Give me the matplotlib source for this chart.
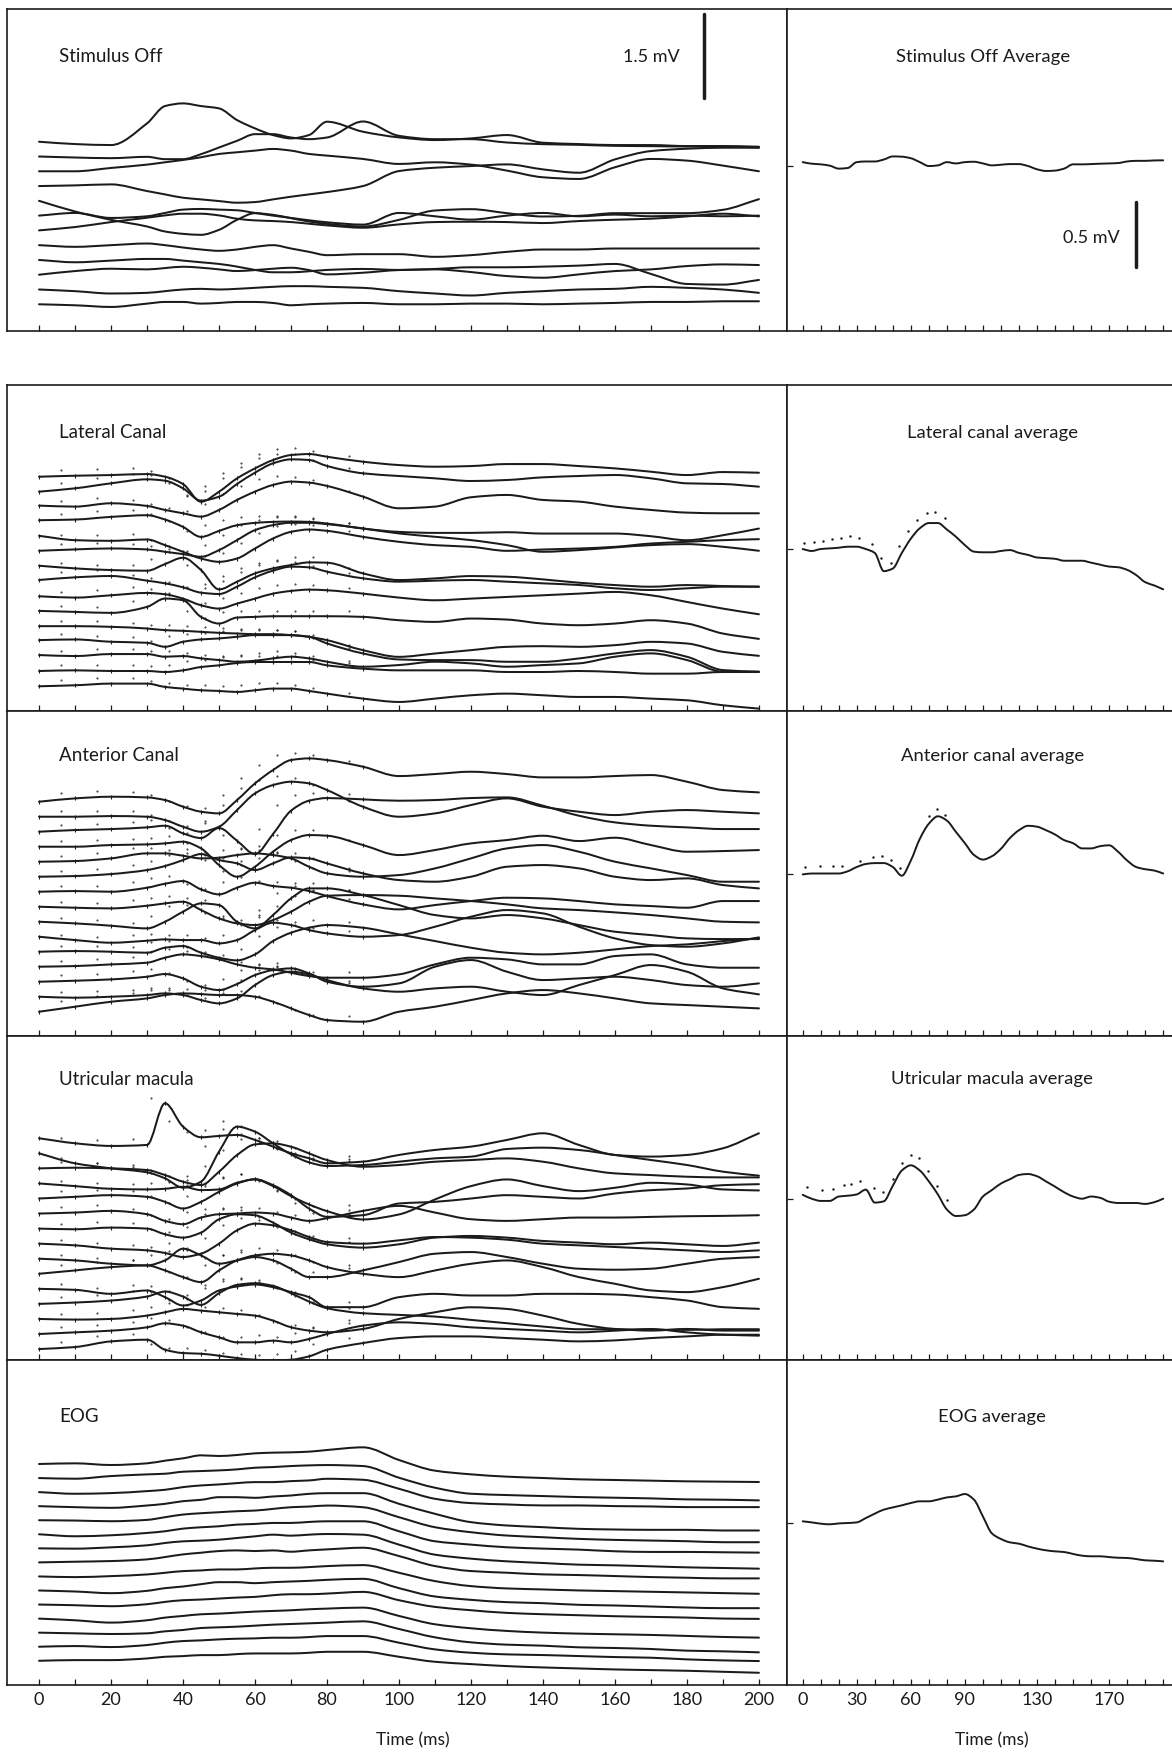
import numpy as np
import matplotlib
matplotlib.use("Agg")
import matplotlib.pyplot as plt
from matplotlib.path import Path
from matplotlib.patches import PathPatch

plt.rcParams['font.family'] = ['Lato', 'DejaVu Sans']
INK = '#1c1a1b'

# ---------------------------------------------------------------- data
# sample times (ms) of the single sweeps
TIME = [0, 10, 20, 30, 35, 40, 45, 50, 55, 60, 65, 70, 75, 80,
        90, 100, 110, 120, 130, 140, 150, 160, 170, 180, 190, 200]
# sample times (ms) of the averaged responses
TIME_AVG = [0, 5, 10, 15, 20, 25, 30, 35, 40, 45, 50, 55, 60, 65, 70, 75, 80,
            85, 90, 95, 100, 105, 110, 115, 120, 125, 130, 135, 140, 145, 150,
            155, 160, 165, 170, 175, 180, 185, 190, 195, 200]

# single sweeps, deviation from each sweep's own baseline (uV)
STIM_OFF = [
    [0, -42, -60, 330, 642, 690, 642, 600, 390, 240, 120, 60, 120, 360, 180, 78, 30, 60, 120, -18, -42, -60, -60, -78, -78, -90],
    [0, -18, -30, -6, -48, -48, 42, 162, 282, 402, 402, 342, 312, 342, 630, 372, 312, 312, 252, 222, 210, 192, 186, 180, 180, 162],
    [0, 0, 60, 120, 162, 204, 252, 312, 342, 372, 402, 372, 312, 282, 222, 132, 162, 120, 12, -108, -138, 72, 222, 192, 102, 0],
    [0, 12, 30, -90, -150, -210, -240, -270, -300, -288, -240, -192, -150, -108, 0, 270, 330, 360, 390, 300, 240, 480, 630, 672, 690, 690],
    [0, -192, -342, -462, -552, -594, -612, -522, -342, -222, -252, -312, -372, -414, -462, -342, -174, -150, -222, -282, -270, -222, -222, -222, -162, 30],
    [0, 48, -42, -12, 48, 108, 120, 108, 96, 48, 0, -42, -84, -120, -162, 48, -12, -72, 0, 48, -12, 18, -12, 0, -12, 0],
    [0, 60, 150, 228, 270, 300, 300, 270, 210, 180, 168, 150, 120, 90, 48, 108, 150, 156, 150, 132, 168, 192, 210, 252, 300, 252],
    [0, -30, 0, 30, 0, -42, -78, -102, -78, -30, 0, -60, -120, -180, -162, -162, -210, -180, -120, -78, -78, -60, -60, -60, -60, -60],
    [0, -42, -12, 18, 18, -12, -42, -72, -120, -180, -222, -222, -204, -180, -162, -180, -162, -132, -132, -120, -102, -72, -252, -432, -444, -360],
    [0, 66, 108, 96, 120, 144, 126, 96, 66, 84, 108, 126, 84, 6, 36, 84, 96, 48, -24, -54, 6, 66, 96, 156, 186, 174],
    [0, -30, -72, -60, -30, 0, 12, 0, 12, 30, 48, 60, 60, 48, 30, -30, -72, -108, -60, -30, 0, 12, 48, 30, 0, -60],
    [0, -18, -48, 12, 42, 42, 12, 24, 42, 42, 24, -18, 0, 12, 24, 0, 0, 12, 12, 0, 12, 24, 42, 42, 54, 54],
]

LATERAL = [
    [0, 18, 30, 48, 0, -132, -450, -270, -30, 150, 300, 390, 408, 360, 270, 210, 180, 192, 228, 228, 192, 150, 90, 30, 84, 72],
    [0, 60, 150, 222, 198, 60, -162, -90, 138, 342, 510, 582, 570, 462, 330, 282, 240, 192, 210, 258, 282, 300, 240, 150, 138, 90],
    [18, 0, 60, 12, -60, -120, -180, -60, 120, 270, 390, 450, 432, 372, 180, -30, 0, 168, 210, 120, 90, 0, -60, -108, -120, -120],
    [24, 36, 84, 114, 36, -96, -276, -168, -66, -24, -6, 0, -6, -36, -126, -186, -204, -204, -192, -216, -216, -216, -264, -336, -246, -126],
    [12, -66, -78, -54, -156, -276, -396, -456, -396, -216, -36, 84, 126, 102, -6, -96, -156, -186, -258, -234, -216, -186, -126, -96, -66, -48],
    [12, 36, 54, 36, -6, -48, -96, 24, 204, 384, 474, 516, 516, 492, 414, 324, 264, 204, 114, -6, 24, 72, 114, 132, 84, 12],
    [12, -36, -66, -78, 42, 156, -66, -414, -276, -126, -36, 24, 72, 66, -126, -246, -216, -174, -186, -234, -294, -336, -366, -336, -354, -366],
    [24, 72, 96, 12, -36, -108, -204, -228, -96, 72, 192, 264, 252, 174, 54, -6, 12, 24, -6, -36, -66, -126, -156, -126, -96, -96],
    [0, -24, 18, 60, 36, -42, -162, -222, -132, -42, 48, 96, 120, 108, 48, -24, -72, -42, -12, 18, 48, 78, 18, -102, -222, -324],
    [6, -12, -30, 78, 228, 198, -102, -222, -114, -102, -90, -90, -90, -90, -102, -162, -192, -132, -150, -222, -252, -222, -162, -222, -402, -498],
    [0, 0, -12, -42, -72, -84, -102, -120, -132, -144, -144, -162, -192, -252, -432, -552, -492, -432, -372, -360, -372, -342, -282, -312, -462, -534],
    [18, 30, -12, -30, -102, -12, 30, 48, 78, 108, 108, 108, 78, -42, -222, -330, -342, -342, -372, -372, -312, -222, -162, -282, -522, -552],
    [18, 0, 36, 36, -12, 0, -42, -72, -102, -84, -42, -12, -42, -102, -192, -162, -102, -132, -192, -162, -132, -12, 48, -72, -282, -282],
    [0, 12, 0, 0, -18, 12, 72, 102, 144, 162, 162, 162, 162, 102, 42, 12, 12, 12, -18, -18, 0, -18, -48, -48, -18, -18],
    [-6, 12, 42, 42, -18, -48, -78, -90, -108, -78, -48, -48, -90, -138, -228, -288, -228, -168, -138, -168, -198, -198, -228, -258, -348, -408],
]

ANTERIOR = [
    [0, 60, 90, 78, 30, -90, -180, -210, 30, 330, 570, 750, 780, 750, 630, 462, 498, 540, 498, 438, 438, 462, 480, 360, 210, 168],
    [0, 0, 12, 0, -60, -180, -270, -180, 120, 420, 570, 630, 600, 480, 180, 0, 60, 210, 330, 180, 90, 30, 90, 120, 90, 60],
    [0, 30, 48, 78, 108, -30, -114, 66, -162, -402, -42, 378, 558, 606, 582, 558, 570, 606, 618, 468, 288, 168, 108, 78, 48, 48],
    [0, 0, 30, 42, 60, 90, -30, -330, -540, -360, -90, 120, 210, 198, 30, -150, -60, 60, 120, 198, 102, 162, 30, -90, -78, -60],
    [0, 12, 60, 150, 150, 108, 60, 72, 120, 150, 120, 60, -90, -210, -270, -240, -120, 60, 240, 300, 180, 0, -120, -240, -360, -360],
    [0, 12, 48, 120, 192, 300, 408, 300, 240, 120, 240, 348, 330, 240, 60, -60, -90, 0, 180, 210, 150, 0, -60, -30, -150, -210],
    [0, 12, 0, 72, 144, 192, 42, -48, 72, 162, 102, 72, 12, -78, -228, -318, -240, -168, -108, -120, -168, -228, -258, -288, -168, -168],
    [0, -18, -30, 18, 60, 90, -60, -210, -300, -330, -240, -90, 90, 198, 210, 198, 150, 102, 42, -30, -60, -102, -150, -210, -270, -282],
    [0, -30, -72, -120, 0, 180, 330, 300, 0, -120, 120, 420, 600, 600, 480, 300, 120, 60, 120, 60, -60, -180, -240, -300, -312, -312],
    [0, -60, -108, -72, -48, -60, -60, -120, -60, 120, 252, 210, 120, 60, 0, 30, 180, 360, 480, 420, 180, -30, -150, -180, -120, -12],
    [0, 12, 0, -18, 72, 102, -18, -108, -156, -48, 192, 342, 432, 480, 432, 312, 192, 72, -18, -48, -18, 42, 102, 132, 192, 240],
    [0, 12, 42, 72, 162, 222, 192, 132, 42, -18, -48, -108, -168, -198, -198, -138, 42, 162, 132, 42, 42, 192, 222, 42, -18, -18],
    [0, 18, 42, 90, 138, 60, -90, -150, -42, 120, 210, 240, 150, 0, -90, -30, 270, 390, 180, 30, 60, 90, 30, -60, -90, -30],
    [0, -18, 0, 30, 60, 30, -60, -120, -30, 210, 390, 450, 402, 300, 150, 90, 150, 180, 90, 30, 210, 390, 570, 450, 150, 42],
    [0, 90, 180, 240, 300, 330, 318, 300, 300, 270, 180, 60, -60, -150, -180, 0, 90, 210, 330, 390, 330, 240, 150, 120, 90, 60],
]

UTRICULAR = [
    [0, -90, -138, -120, 630, 210, 18, 42, 60, -30, -150, -270, -360, -450, -420, -300, -210, -150, -30, 90, -120, -300, -330, -300, -180, 90],
    [0, -180, -270, -342, -450, -618, -510, 30, 480, 390, 180, -18, -162, -228, -210, -150, -90, -60, 78, 102, 60, -30, -120, -210, -330, -402],
    [0, 12, 0, -30, -120, -240, -300, -60, 240, 432, 450, 390, 270, 150, 30, 60, 120, 150, 180, 120, 0, -90, -120, -150, -162, -162],
    [0, -48, -96, -108, -96, -60, -120, -108, 12, 72, -48, -228, -378, -498, -648, -558, -288, -48, 72, -48, -138, -78, 12, -18, -108, -126],
    [0, 30, 60, 30, -60, -180, -60, 120, 270, 348, 240, 60, -180, -330, -300, -90, -60, 0, 60, 30, 0, 90, 150, 180, 240, 258],
    [0, 18, 48, -12, -132, -192, -72, -12, 0, 18, 0, -72, -132, -84, 48, 138, 18, -102, -132, -102, -72, -72, -60, -48, -42, -30],
    [0, -12, 18, 0, -102, -162, -72, 168, 258, 240, 108, -72, -192, -282, -342, -282, -162, -132, -162, -222, -252, -282, -252, -282, -312, -252],
    [0, -30, -90, -120, -168, -240, -180, 0, 240, 360, 330, 240, 120, 30, 0, 60, 120, 108, 72, 0, -30, -60, -90, -120, -150, -120],
    [0, -30, -90, -120, -30, 180, 60, -90, -30, 30, -30, -180, -330, -330, -210, -60, 90, 120, 30, -90, -180, -198, -180, -90, 0, 30],
    [0, 60, 120, 150, 60, -60, -150, 60, 240, 330, 360, 330, 240, 120, 0, -60, 60, 180, 240, 120, -60, -180, -300, -330, -240, -90],
    [0, -18, -90, -30, -150, -300, -210, -30, 42, 78, 30, -60, -150, -330, -330, -150, -90, -120, -120, -90, -90, -102, -150, -210, -330, -360],
    [0, 24, 60, 132, 222, 132, -18, 192, 342, 372, 324, 192, 42, -78, -168, -198, -228, -288, -348, -408, -456, -456, -468, -468, -456, -456],
    [0, -12, 0, 60, 120, 180, 150, 120, 90, 60, -30, -150, -210, -240, -180, 0, 120, 210, 180, 60, -90, -180, -210, -180, -210, -210],
    [0, 30, 60, 120, 192, 150, 30, -60, -150, -150, -120, -150, -90, 0, 150, 210, 180, 120, 90, 60, 30, 60, 90, 30, -12, -30],
    [0, 36, 138, 168, -12, -72, -84, -120, -162, -192, -204, -192, -132, -12, 108, 198, 228, 228, 198, 168, 138, 156, 198, 228, 258, 258],
]

EOG = [
    [0, 12, -18, 12, 60, 102, 156, 144, 162, 192, 204, 210, 222, 252, 300, 72, -120, -186, -228, -252, -276, -288, -300, -312, -318, -324],
    [0, -12, 36, 66, 78, 114, 126, 138, 156, 186, 198, 216, 228, 234, 216, 6, -174, -282, -306, -324, -342, -354, -366, -384, -390, -402],
    [0, -30, -18, 18, 42, 90, 120, 138, 162, 180, 180, 198, 210, 240, 222, 60, -120, -198, -222, -240, -240, -252, -258, -270, -270, -270],
    [0, -18, -30, 12, 42, 90, 114, 162, 162, 150, 174, 192, 222, 234, 234, 42, -138, -288, -348, -378, -408, -420, -426, -426, -438, -438],
    [0, -6, -18, 6, 54, 102, 126, 144, 162, 174, 204, 234, 246, 264, 234, 54, -126, -216, -276, -306, -336, -354, -366, -378, -396, -396],
    [0, -36, -18, 24, 54, 102, 126, 144, 174, 186, 204, 204, 222, 234, 234, 54, -126, -186, -234, -258, -276, -306, -318, -318, -324, -330],
    [0, -6, 18, 54, 96, 126, 138, 156, 186, 216, 246, 228, 246, 258, 246, 66, -114, -186, -234, -264, -294, -306, -324, -342, -354, -366],
    [0, 12, 24, 54, 96, 144, 174, 204, 216, 204, 216, 192, 216, 234, 264, 114, -66, -156, -186, -216, -228, -246, -264, -276, -288, -288],
    [0, -12, 6, 36, 66, 96, 108, 126, 126, 144, 156, 156, 168, 186, 204, 66, -84, -174, -216, -234, -252, -264, -276, -288, -300, -312],
    [0, -18, -48, -6, 42, 72, 114, 150, 150, 132, 150, 162, 174, 192, 210, 42, -108, -168, -210, -228, -258, -270, -288, -306, -318, -318],
    [0, -12, -30, 6, 48, 78, 90, 108, 126, 138, 168, 186, 186, 198, 228, 78, -42, -102, -150, -174, -192, -210, -222, -234, -252, -258],
    [0, -30, -72, -30, 18, 48, 78, 90, 108, 126, 138, 150, 168, 180, 198, 48, -102, -174, -222, -252, -270, -282, -294, -312, -330, -342],
    [0, -12, -24, -12, 24, 48, 84, 96, 108, 126, 144, 156, 168, 180, 204, 66, -84, -174, -216, -234, -264, -276, -294, -324, -336, -354],
    [0, 12, -6, 30, 72, 102, 114, 132, 144, 150, 162, 162, 174, 192, 192, 72, -48, -108, -138, -150, -168, -186, -198, -228, -246, -258],
    [0, 12, 12, 42, 72, 84, 102, 102, 120, 132, 132, 132, 144, 162, 162, 72, -18, -60, -96, -120, -138, -156, -168, -180, -198, -216],
]

# averaged responses (mV)
AVG_STIM_OFF = [0.03, 0.018, 0.013, 0.003, -0.02, -0.015, 0.03, 0.035, 0.035, 0.05, 0.074, 0.072, 0.06, 0.03,
                0.0, 0.005, 0.03, 0.02, 0.03, 0.033, 0.02, 0.005, 0.01, 0.015, 0.015, 0.0, -0.025, -0.038,
                -0.035, -0.02, 0.013, 0.013, 0.015, 0.018, 0.02, 0.023, 0.035, 0.04, 0.04, 0.043, 0.044]
AVG_LATERAL = [0.0, -0.015, 0.0, 0.005, 0.01, 0.018, 0.018, 0.0, -0.03, -0.17, -0.15, -0.03, 0.08, 0.16,
               0.2, 0.2, 0.15, 0.095, 0.03, -0.02, -0.025, -0.025, -0.015, -0.008, -0.03, -0.045, -0.065,
               -0.07, -0.075, -0.09, -0.09, -0.09, -0.105, -0.12, -0.135, -0.14, -0.16, -0.2, -0.255, -0.28, -0.31]
AVG_ANTERIOR = [-0.007, 0.0, 0.0, 0.0, 0.0, 0.017, 0.05, 0.073, 0.08, 0.08, 0.05, -0.017, 0.1, 0.267,
                0.383, 0.44, 0.407, 0.32, 0.233, 0.143, 0.107, 0.133, 0.19, 0.273, 0.333, 0.367, 0.36,
                0.333, 0.3, 0.257, 0.233, 0.193, 0.193, 0.21, 0.217, 0.167, 0.1, 0.05, 0.033, 0.023, 0.0]
AVG_UTRICULAR = [0.03, 0.0, -0.017, -0.017, 0.017, 0.023, 0.033, 0.07, -0.03, -0.02, 0.1, 0.217, 0.257,
                 0.217, 0.133, 0.033, -0.083, -0.133, -0.127, -0.083, 0.017, 0.067, 0.117, 0.15, 0.183,
                 0.19, 0.173, 0.133, 0.093, 0.05, 0.017, 0.0, 0.017, 0.007, -0.023, -0.033, -0.033,
                 -0.033, -0.04, -0.027, 0.0]
AVG_EOG = [0.013, 0.005, -0.005, -0.01, -0.003, 0.0, 0.005, 0.038, 0.072, 0.103, 0.12, 0.136, 0.154,
           0.167, 0.167, 0.18, 0.197, 0.205, 0.223, 0.18, 0.05, -0.08, -0.123, -0.149, -0.159, -0.18,
           -0.197, -0.21, -0.218, -0.223, -0.238, -0.251, -0.256, -0.256, -0.262, -0.267, -0.269,
           -0.277, -0.287, -0.29, -0.295]

# sparse dotted companion of the averages (ms, mV)
DOTS_LATERAL_T = [1, 6.5, 11.5, 16.5, 21.5, 26, 31, 38.5, 43.5, 49, 53.5, 58.5, 63.5, 69, 73.5, 79]
DOTS_LATERAL_V = [0.049, 0.056, 0.064, 0.074, 0.082, 0.1, 0.082, 0.038, -0.072, -0.105, 0.026, 0.138,
                  0.223, 0.28, 0.287, 0.241]
DOTS_ANTERIOR_T = [1.3, 9.6, 16.6, 21.8, 31.8, 39.2, 43.8, 49, 54, 70, 74.3, 79]
DOTS_ANTERIOR_V = [0.047, 0.06, 0.06, 0.06, 0.1, 0.127, 0.133, 0.107, 0.04, 0.44, 0.493, 0.45]
DOTS_UTRICULAR_T = [2.2, 10.6, 17, 22.9, 27, 32, 39.5, 44.7, 50.3, 54.9, 59.9, 64.7, 69.7, 74.7, 79.9]
DOTS_UTRICULAR_V = [0.093, 0.067, 0.073, 0.107, 0.117, 0.133, 0.083, 0.05, 0.15, 0.273, 0.34, 0.317,
                    0.217, 0.1, -0.007]

TITLES_LEFT = ['Stimulus Off', 'Lateral Canal', 'Anterior Canal', 'Utricular macula', 'EOG']
TITLES_RIGHT = ['Stimulus Off Average', 'Lateral canal average', 'Anterior canal average',
                'Utricular macula average', 'EOG average']
TICKS_LEFT = [0, 20, 40, 60, 80, 100, 120, 140, 160, 180, 200]
TICKS_RIGHT = [0, 30, 60, 90, 130, 170]

# ---------------------------------------------------------------- layout
W, H = 1172, 1754
fig = plt.figure(figsize=(W / 100, H / 100), dpi=100)

ROWS_PX = [(9, 331), (385, 711), (711, 1036), (1036, 1360), (1360, 1685)]
LEFT_PX = (7, 787)
RIGHT_PX = (787, 1174)

rows = [
    dict(traces=STIM_OFF, gap=266, ylim=(-3407, 2389), marks=False, avg=AVG_STIM_OFF,
         aylim=(-1.269, 1.208), dots=None, ty=0.851, rty=0.851, rtx=0.506),
    dict(traces=LATERAL, gap=269, ylim=(-4217, 1651), marks=True, avg=AVG_LATERAL,
         aylim=(-1.246, 1.262), dots=(DOTS_LATERAL_T, DOTS_LATERAL_V), ty=0.853, rty=0.853, rtx=0.53),
    dict(traces=ANTERIOR, gap=270, ylim=(-4217, 1633), marks=True, avg=AVG_ANTERIOR,
         aylim=(-1.25, 1.25), dots=(DOTS_ANTERIOR_T, DOTS_ANTERIOR_V), ty=0.862, rty=0.862, rtx=0.53),
    dict(traces=UTRICULAR, gap=271, ylim=(-3991, 1841), marks=True, avg=AVG_UTRICULAR,
         aylim=(-1.241, 1.252), dots=(DOTS_UTRICULAR_T, DOTS_UTRICULAR_V), ty=0.866, rty=0.868, rtx=0.53),
    dict(traces=EOG, gap=253, ylim=(-3978, 1872), marks=False, avg=AVG_EOG,
         aylim=(-1.246, 1.254), dots=None, ty=0.826, rty=0.824, rtx=0.53),
]


def add_px_axes(xpx, ypx):
    x0, x1 = xpx
    y0, y1 = ypx
    return fig.add_axes([x0 / W, 1 - y1 / H, (x1 - x0) / W, (y1 - y0) / H])


def style(ax, xlim, ylim):
    ax.set_xlim(*xlim)
    ax.set_ylim(*ylim)
    ax.set_xticks(np.arange(0, 201, 10))
    ax.tick_params(axis='x', direction='in', length=4, width=0.9, color=INK,
                   labelbottom=False, labelsize=13, labelcolor=INK, pad=5)
    for s in ax.spines.values():
        s.set_linewidth(1.2)
        s.set_color(INK)


def smooth_trace(ax, t, y, lw=1.45):
    """Draw a sweep as a shape-preserving cubic (PCHIP-style) Bezier path through its samples."""
    t = np.asarray(t, dtype=float)
    y = np.asarray(y, dtype=float)
    h = np.diff(t)
    d = np.diff(y) / h
    m = np.empty_like(y)
    m[0], m[-1] = d[0], d[-1]
    for i in range(1, len(y) - 1):
        if d[i - 1] * d[i] <= 0:
            m[i] = 0.0
        else:
            w1 = 2 * h[i] + h[i - 1]
            w2 = h[i] + 2 * h[i - 1]
            m[i] = (w1 + w2) / (w1 / d[i - 1] + w2 / d[i])
    verts = [(t[0], y[0])]
    codes = [Path.MOVETO]
    for i in range(len(t) - 1):
        verts += [(t[i] + h[i] / 3, y[i] + m[i] * h[i] / 3),
                  (t[i + 1] - h[i] / 3, y[i + 1] - m[i + 1] * h[i] / 3),
                  (t[i + 1], y[i + 1])]
        codes += [Path.CURVE4] * 3
    ax.add_patch(PathPatch(Path(verts, codes), fill=False, edgecolor=INK, lw=lw,
                           joinstyle='round', capstyle='round'))


t_arr = np.asarray(TIME)
early = t_arr <= 90

for r, cfg in enumerate(rows):
    axl = add_px_axes(LEFT_PX, ROWS_PX[r])
    style(axl, (-8.9, 207.8), cfg['ylim'])
    axl.set_yticks([])
    for i, dev in enumerate(cfg['traces']):
        y = np.asarray(dev, dtype=float) - i * cfg['gap']
        smooth_trace(axl, t_arr, y)
        if cfg['marks']:
            axl.plot(t_arr[early], y[early], ls='none', marker='|', ms=3.0, mew=0.8, color=INK)
            axl.plot(t_arr[early][1:] - 4, y[early][1:] + 100, ls='none', marker='.', ms=0.9,
                     color=INK)
    axl.text(0.0667, cfg['ty'], TITLES_LEFT[r], transform=axl.transAxes, ha='left', va='center',
             fontsize=13.5, color=INK)

    axr = add_px_axes(RIGHT_PX, ROWS_PX[r])
    style(axr, (-8.7, 206.0), cfg['aylim'])
    axr.set_yticks([0])
    axr.tick_params(axis='y', direction='in', length=4.5, width=0.9, color=INK, labelleft=False)
    axr.spines['right'].set_visible(False)
    smooth_trace(axr, TIME_AVG, cfg['avg'], lw=1.4)
    if cfg['dots'] is not None:
        axr.plot(cfg['dots'][0], cfg['dots'][1], ls='none', marker='.', ms=1.5, color=INK)
    axr.text(cfg['rtx'], cfg['rty'], TITLES_RIGHT[r], transform=axr.transAxes, ha='center',
             va='center', fontsize=13.3, color=INK)

    if r == 0:
        # calibration bars
        axl.plot([184.7, 184.7], [790, 2290], color=INK, lw=2.5, solid_capstyle='round')
        axl.text(178, 1525, '1.5 mV', ha='right', va='center', fontsize=13, color=INK)
        axr.plot([184.9, 184.9], [-0.777, -0.277], color=INK, lw=2.5, solid_capstyle='round')
        axr.text(176, -0.554, '0.5 mV', ha='right', va='center', fontsize=13, color=INK)

    if r == len(rows) - 1:
        axl.set_xticklabels([str(v) if v in TICKS_LEFT else '' for v in range(0, 201, 10)])
        axl.tick_params(axis='x', labelbottom=True)
        axr.set_xticklabels([str(v) if v in TICKS_RIGHT else '' for v in range(0, 201, 10)])
        axr.tick_params(axis='x', labelbottom=True)

fig.text(413 / W, 1 - 1740 / H, 'Time (ms)', ha='center', va='center', fontsize=12.5, color=INK)
fig.text(992 / W, 1 - 1740 / H, 'Time (ms)', ha='center', va='center', fontsize=12.5, color=INK)

fig.savefig('out.png', dpi=100, facecolor='white')
